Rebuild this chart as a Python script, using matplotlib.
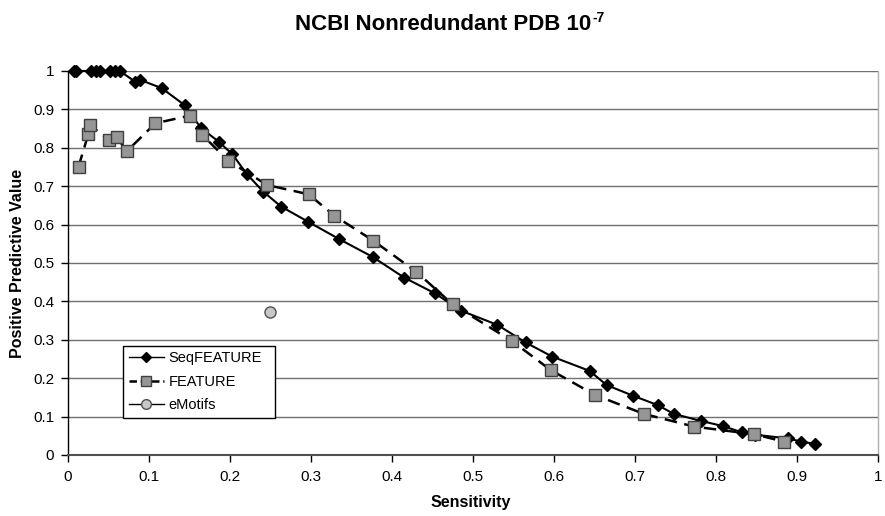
import matplotlib
matplotlib.use("Agg")
import matplotlib.pyplot as plt
from matplotlib.lines import Line2D

plt.rcParams['font.family'] = ['Liberation Sans', 'DejaVu Sans']

title_main = "NCBI Nonredundant PDB 10"
title_sup = "-7"
x_label = "Sensitivity"
y_label = "Positive Predictive Value"

seq_x = [0.007, 0.010, 0.029, 0.034, 0.040, 0.052, 0.058, 0.064, 0.083, 0.089,
         0.116, 0.144, 0.164, 0.186, 0.203, 0.221, 0.241, 0.263, 0.296, 0.335,
         0.376, 0.415, 0.453, 0.485, 0.530, 0.565, 0.598, 0.644, 0.665, 0.698,
         0.728, 0.748, 0.781, 0.809, 0.832, 0.848, 0.889, 0.905, 0.922]
seq_y = [1.0, 1.0, 1.0, 1.0, 1.0, 1.0, 1.0, 1.0, 0.972, 0.977,
         0.955, 0.911, 0.852, 0.816, 0.783, 0.731, 0.686, 0.647, 0.608, 0.562,
         0.516, 0.462, 0.421, 0.376, 0.339, 0.293, 0.256, 0.219, 0.182, 0.154,
         0.130, 0.107, 0.089, 0.075, 0.059, 0.053, 0.043, 0.035, 0.029]

feat_x = [0.013, 0.025, 0.027, 0.051, 0.060, 0.073, 0.108, 0.151, 0.166, 0.198,
          0.246, 0.297, 0.329, 0.377, 0.430, 0.475, 0.548, 0.596, 0.651, 0.711,
          0.773, 0.847, 0.884]
feat_y = [0.751, 0.835, 0.859, 0.820, 0.827, 0.792, 0.864, 0.884, 0.833, 0.766,
          0.703, 0.679, 0.623, 0.558, 0.477, 0.392, 0.297, 0.221, 0.156, 0.107,
          0.074, 0.054, 0.035]

emo_x = [0.249]
emo_y = [0.373]

x_ticks = [0, 0.1, 0.2, 0.3, 0.4, 0.5, 0.6, 0.7, 0.8, 0.9, 1]
x_tick_labels = ["0", "0.1", "0.2", "0.3", "0.4", "0.5", "0.6", "0.7", "0.8", "0.9", "1"]
y_ticks = [0, 0.1, 0.2, 0.3, 0.4, 0.5, 0.6, 0.7, 0.8, 0.9, 1]
y_tick_labels = ["0", "0.1", "0.2", "0.3", "0.4", "0.5", "0.6", "0.7", "0.8", "0.9", "1"]

fig = plt.figure(figsize=(8.85, 5.16), dpi=100)
ax = fig.add_axes([68/885, 1-455/516, 810/885, 384/516])

ax.set_xlim(0, 1)
ax.set_ylim(0, 1)
ax.set_xticks(x_ticks)
ax.set_xticklabels(x_tick_labels)
ax.set_yticks(y_ticks)
ax.set_yticklabels(y_tick_labels)
ax.tick_params(direction='out', length=5, width=1, labelsize=11, colors='black')
ax.tick_params(axis='x', pad=6)
ax.tick_params(axis='y', pad=5)

for y in y_ticks[1:]:
    ax.axhline(y, color='#707070', lw=1.0, zorder=0)

ax.spines['top'].set_visible(False)
ax.spines['right'].set_color('#b0b0b0')
ax.spines['right'].set_linewidth(1.0)
ax.spines['left'].set_color('black')
ax.spines['bottom'].set_color('#505050')
ax.spines['left'].set_linewidth(1.0)
ax.spines['bottom'].set_linewidth(1.5)

ax.plot(seq_x, seq_y, color='black', lw=1.5, marker='D', markersize=6,
        markerfacecolor='black', markeredgecolor='black', zorder=3, clip_on=False)
ax.plot(feat_x, feat_y, color='black', lw=1.8, dashes=(5, 3), marker='s', markersize=8,
        markerfacecolor='#969696', markeredgecolor='#404040', markeredgewidth=1.0,
        zorder=4, clip_on=False)
ax.plot(emo_x, emo_y, marker='o', markersize=8, linestyle='none',
        markerfacecolor='#c8c8c8', markeredgecolor='#505050', zorder=4)

handles = [
    Line2D([], [], color='black', lw=1.0, marker='D', markersize=5,
           markerfacecolor='black', markeredgecolor='black'),
    Line2D([], [], color='black', lw=1.8, dashes=(3, 1.5), marker='s', markersize=7,
           markerfacecolor='#969696', markeredgecolor='#404040'),
    Line2D([], [], color='black', lw=1.0, marker='o', markersize=7,
           markerfacecolor='#c8c8c8', markeredgecolor='#505050'),
]
leg = ax.legend(handles, ['SeqFEATURE', 'FEATURE', 'eMotifs'],
                loc='lower left', bbox_to_anchor=(0.068, 0.096, 0.188, 0.1875),
                mode='expand', borderaxespad=0, fontsize=10.5, fancybox=False,
                edgecolor='black', framealpha=1, handlelength=2.4,
                handletextpad=0.3, labelspacing=0.65, borderpad=0.4)
leg.get_frame().set_linewidth(1.0)

ax.set_xlabel(x_label, fontsize=11.5, fontweight='bold', va='center')
ax.xaxis.set_label_coords((471-68)/810, (455-503)/384)
ax.set_ylabel(y_label, fontsize=11.5, fontweight='bold', va='center')
ax.yaxis.set_label_coords((17.5-68)/810, 0.5)

# Title with hyphen superscript
t = fig.text(0, 1-25/516, title_main, ha='left', va='center', fontsize=16, fontweight='bold')
fig.canvas.draw()
r = fig.canvas.get_renderer()
bb = t.get_window_extent(r)
t_sup = fig.text(0, 0, title_sup, ha='left', va='baseline', fontsize=10, fontweight='bold')
bbs = t_sup.get_window_extent(r)
total = bb.width + bbs.width + 1
x0 = 450 - total/2
t.set_x(x0/885)
t_sup.set_x((x0 + bb.width + 1)/885)
t_sup.set_y((bb.y0 + bb.height*0.62)/516)

fig.savefig('out.png', dpi=100)
